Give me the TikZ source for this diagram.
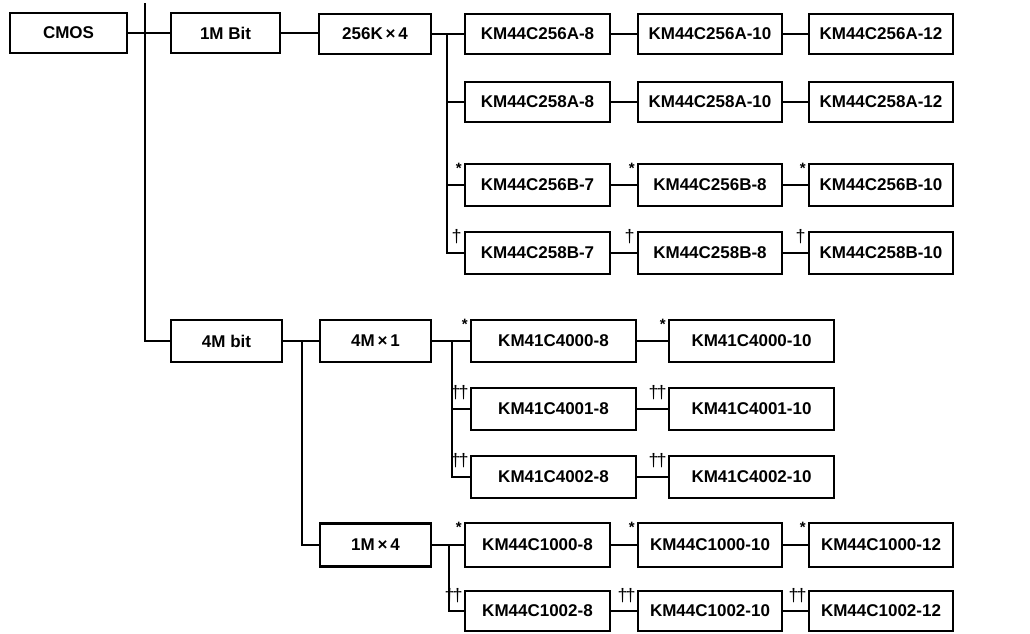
\documentclass[tikz,border=0pt]{standalone}
\usepackage{fontspec}
\setmainfont{Liberation Sans}
\usetikzlibrary{calc}
\begin{document}
\begin{tikzpicture}[x=1pt,y=-1pt,
  box/.style={draw, line width=2.4pt, inner sep=0pt, minimum height=40pt,
    font=\fontsize{17}{19}\selectfont\bfseries},
  wire/.style={line width=1.3pt},
  tag/.style={anchor=north east, inner sep=0pt, font=\fontsize{15}{15}\selectfont\bfseries},
  dag/.style={anchor=north east, inner sep=0pt, font=\fontsize{18}{18}\selectfont}]
\useasboundingbox (0,0) rectangle (1030,633);
% level 1-3
\node[box, minimum width=117pt] (cmos) at (68.5,33) {CMOS};
\node[box, minimum width=109pt] (m1) at (225.5,33) {1M Bit};
\node[box, minimum width=112pt] (k256) at (375,34) {256K\,×\,4};
\node[box, minimum width=111pt, minimum height=42pt] (m4) at (226.5,341) {4M bit};
\node[box, minimum width=111pt, minimum height=42pt] (m4x1) at (375.5,341) {4M\,×\,1};
\node[box, minimum width=111pt, minimum height=43pt] (m1x4) at (375.5,545) {1M\,×\,4};
% 256K x 4 group
\node[box, minimum width=145pt] (a8) at (537.5,34) {KM44C256A-8};
\node[box, minimum width=144pt] (a10) at (710,34) {KM44C256A-10};
\node[box, minimum width=144pt] (a12) at (881,34) {KM44C256A-12};
\node[box, minimum width=145pt] (b8) at (537.5,102) {KM44C258A-8};
\node[box, minimum width=144pt] (b10) at (710,102) {KM44C258A-10};
\node[box, minimum width=144pt] (b12) at (881,102) {KM44C258A-12};
\node[box, minimum width=145pt, minimum height=42pt] (c7) at (537.5,185) {KM44C256B-7};
\node[box, minimum width=144pt, minimum height=42pt] (c8) at (710,185) {KM44C256B-8};
\node[box, minimum width=144pt, minimum height=42pt] (c10) at (881,185) {KM44C256B-10};
\node[box, minimum width=145pt, minimum height=42pt] (d7) at (537.5,253) {KM44C258B-7};
\node[box, minimum width=144pt, minimum height=42pt] (d8) at (710,253) {KM44C258B-8};
\node[box, minimum width=144pt, minimum height=42pt] (d10) at (881,253) {KM44C258B-10};
% 4M x 1 group
\node[box, minimum width=165pt, minimum height=42pt] (e8) at (553.5,341) {KM41C4000-8};
\node[box, minimum width=165pt, minimum height=42pt] (e10) at (751.5,341) {KM41C4000-10};
\node[box, minimum width=165pt, minimum height=42pt] (f8) at (553.5,409) {KM41C4001-8};
\node[box, minimum width=165pt, minimum height=42pt] (f10) at (751.5,409) {KM41C4001-10};
\node[box, minimum width=165pt, minimum height=42pt] (g8) at (553.5,477) {KM41C4002-8};
\node[box, minimum width=165pt, minimum height=42pt] (g10) at (751.5,477) {KM41C4002-10};
% 1M x 4 group
\node[box, minimum width=145pt, minimum height=44pt] (h8) at (537.5,545) {KM44C1000-8};
\node[box, minimum width=144pt, minimum height=44pt] (h10) at (710,545) {KM44C1000-10};
\node[box, minimum width=144pt, minimum height=44pt] (h12) at (881,545) {KM44C1000-12};
\node[box, minimum width=145pt, minimum height=40pt] (i8) at (537.5,611) {KM44C1002-8};
\node[box, minimum width=144pt, minimum height=40pt] (i10) at (710,611) {KM44C1002-10};
\node[box, minimum width=144pt, minimum height=40pt] (i12) at (881,611) {KM44C1002-12};
% trunk
\coordinate (top) at (145,3);
\draw[wire] (cmos.east) -- (m1.west);
\draw[wire] (top) |- (m4.west);
\draw[wire] (m1.east) -- (m1.east -| k256.west);
% 256K x 4 wiring
\draw[wire] (k256.east) -- (a8.west);
\draw[wire] (447,34) |- (d7.west);
\draw[wire] (447,102) -- (b8.west);
\draw[wire] (447,185) -- (c7.west);
\foreach \p/\q in {a8/a10,a10/a12,b8/b10,b10/b12,c7/c8,c8/c10,d7/d8,d8/d10}
  \draw[wire] (\p.east) -- (\q.west);
% 4M bit wiring
\draw[wire] (m4.east) -- (m4x1.west);
\draw[wire] (302,341) |- (m1x4.west);
\draw[wire] (m4x1.east) -- (e8.west);
\draw[wire] (452,341) |- (g8.west);
\draw[wire] (452,409) -- (f8.west);
\foreach \p/\q in {e8/e10,f8/f10,g8/g10}
  \draw[wire] (\p.east) -- (\q.west);
\draw[wire] (m1x4.east) -- (h8.west);
\draw[wire] (449,545) |- (i8.west);
\foreach \p/\q in {h8/h10,h10/h12,i8/i10,i10/i12}
  \draw[wire] (\p.east) -- (\q.west);
% footnote tags
\foreach \b in {c7,c8,c10,e8,e10,h8,h10,h12}
  \node[tag] at ($(\b.north west)+(-2,0)$) {*};
\foreach \b in {d7,d8,d10}
  \node[dag] at ($(\b.north west)+(-2,-2)$) {†};
\foreach \b in {f8,f10,g8,g10,i8,i10,i12}
  \node[dag] at ($(\b.north west)+(-1,-2)$) {†\kern-2pt†};
\end{tikzpicture}
\end{document}
